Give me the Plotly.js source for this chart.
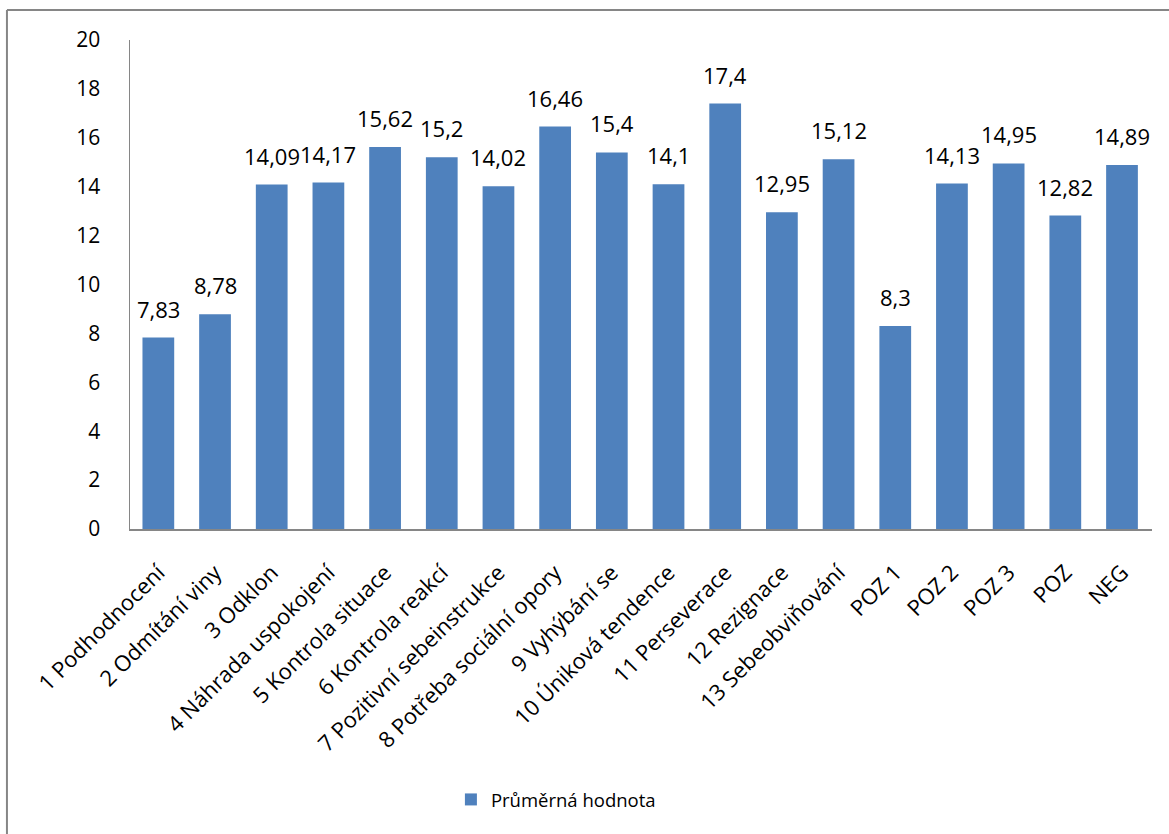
<!DOCTYPE html>
<html><head><meta charset="utf-8">
<script src="https://cdn.plot.ly/plotly-3.0.1.min.js"></script>
<style>html,body{margin:0;padding:0;background:#fff}#c{width:1169px;height:834px}</style>
</head><body><div id="c"></div>
<script>
const categories = ["1 Podhodnocení","2 Odmítání viny","3 Odklon","4 Náhrada uspokojení","5 Kontrola situace","6 Kontrola reakcí","7 Pozitivní sebeinstrukce","8 Potřeba sociální opory","9 Vyhýbání se","10 Úniková tendence","11 Perseverace","12 Rezignace","13 Sebeobviňování","POZ 1","POZ 2","POZ 3","POZ","NEG"];
const values = [7.83,8.78,14.09,14.17,15.62,15.2,14.02,16.46,15.4,14.1,17.4,12.95,15.12,8.3,14.13,14.95,12.82,14.89];
const seriesName = "Průměrná hodnota";
const yTicks = [0,2,4,6,8,10,12,14,16,18,20];

const labels = values.map(v => String(v).replace('.', ','));
const font = "Open Sans, sans-serif";

const trace = {
  type: 'bar', x: categories, y: values, name: seriesName,
  marker: {color: '#4F81BD'},
  showlegend: true
};

const annotations = categories.map((c, i) => ({
  x: c, y: values[i], xref: 'x', yref: 'y', text: labels[i], showarrow: false,
  yanchor: 'bottom', yshift: 12, font: {family: font, size: 22, color: '#000'}
}));

const layout = {
  width: 1169, height: 834,
  margin: {l: 130, r: 17, t: 40, b: 305},
  paper_bgcolor: '#fff', plot_bgcolor: '#fff',
  font: {family: font, color: '#000', size: 21},
  bargap: 0.44,
  showlegend: true,
  legend: {orientation: 'h', x: 0.314, xanchor: 'left', y: -0.554, yanchor: 'middle',
           font: {family: font, size: 18.5, color: '#000'}},
  xaxis: {type: 'category', tickangle: -45, showline: true, linecolor: '#868686', linewidth: 2,
          ticks: '', showgrid: false, zeroline: false, ticklabelstandoff: 20,
          tickfont: {family: font, size: 22}},
  yaxis: {range: [0, 20], tickvals: yTicks, ticktext: yTicks.map(String), showline: true,
          linecolor: '#868686', linewidth: 1.5, ticks: '', showgrid: false, zeroline: false,
          ticklabelstandoff: 24, tickfont: {family: font, size: 21}},
  annotations: annotations,
  shapes: [
    {type: 'line', xref: 'paper', yref: 'paper', x0: -0.1204, x1: 1.05, y0: 1.0613, y1: 1.0613,
     line: {color: '#868686', width: 2}},
    {type: 'line', xref: 'paper', yref: 'paper', x0: -0.1204, x1: -0.1204, y0: 1.0613, y1: -0.65,
     line: {color: '#868686', width: 2}}
  ]
};
Plotly.newPlot('c', [trace], layout, {displayModeBar: false, staticPlot: true});
</script></body></html>
